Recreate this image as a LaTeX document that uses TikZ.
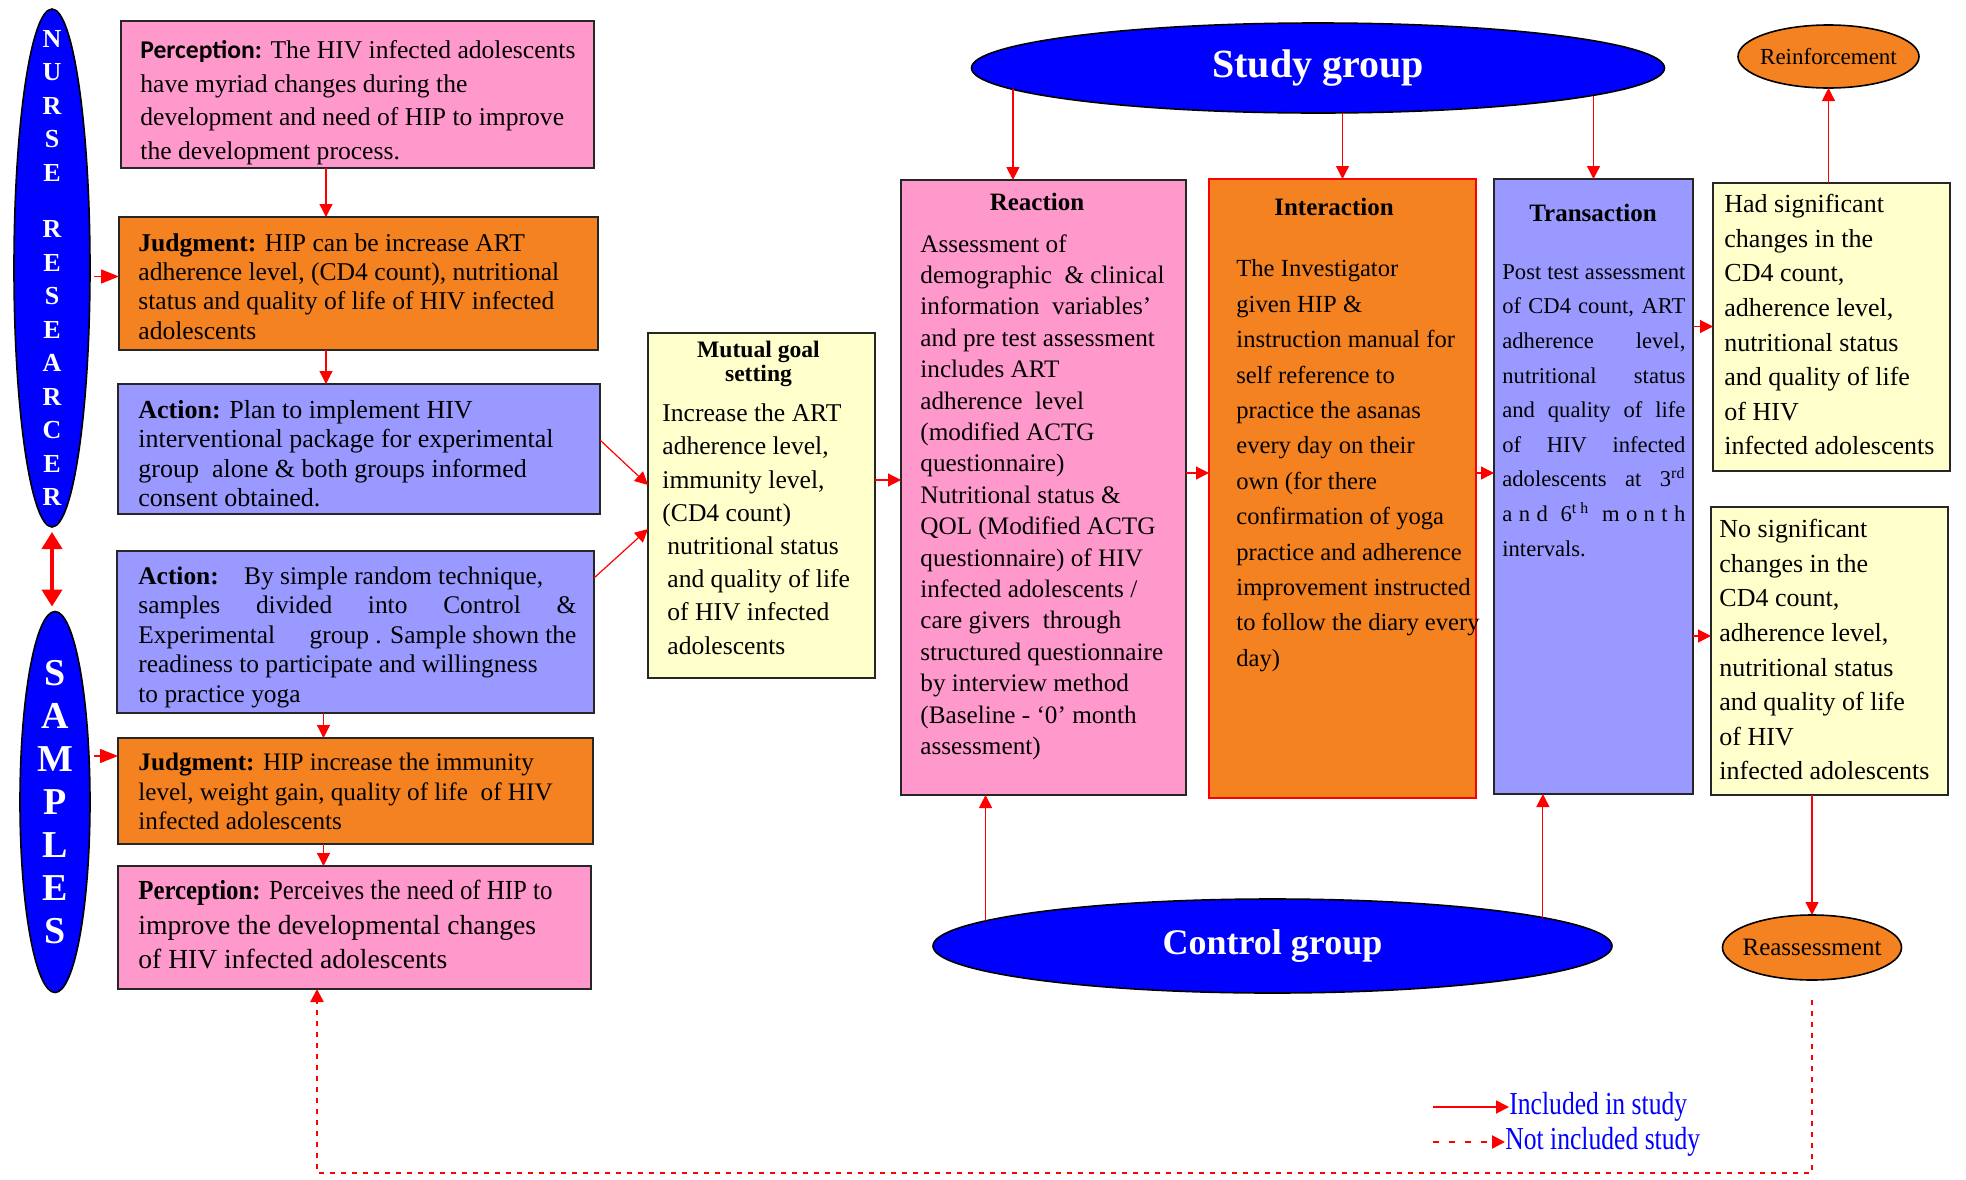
\documentclass[tikz,border=0pt]{standalone}
\usepackage{fontspec}
\setmainfont{Liberation Serif}
\newfontfamily\calibri{Carlito}
\newfontfamily\narrowserif[FakeStretch=0.8]{Liberation Serif}
\usepackage{graphicx}
\usepackage{tikz}
\usetikzlibrary{shapes,arrows.meta,positioning,fit}

\definecolor{boxpink}{RGB}{255,153,204}
\definecolor{boxorange}{RGB}{245,130,32}
\definecolor{boxlilac}{RGB}{153,153,255}
\definecolor{boxyellow}{RGB}{255,255,204}
\definecolor{ovalblue}{RGB}{0,0,255}

% a line spread out to a given width
\newcommand{\justline}[2]{\makebox[#1][s]{\spaceskip=0pt\xspaceskip=0pt #2}}

\tikzset{
  box/.style={draw=black!85, line width=1.1pt, inner sep=0pt, outer sep=0pt},
  pinkbox/.style={box, fill=boxpink},
  orangebox/.style={box, fill=boxorange},
  lilacbox/.style={box, fill=boxlilac},
  yellowbox/.style={box, fill=boxyellow},
  oval/.style={ellipse, draw=black, line width=0.8pt, inner sep=0pt, outer sep=0pt},
  vlet/.style={text=white, align=center, inner sep=0pt},
  txt/.style={anchor=north west, inner sep=0pt, align=flush left},
  head/.style={font=\fontsize{12.5}{14}\selectfont\bfseries, inner sep=0pt},
  inc/.style={red, line width=0.6pt, -{Triangle[length=6.5pt,width=6.5pt]}},
  stub/.style={red, line width=0.6pt, -{Triangle[length=9pt,width=7pt]}},
  notinc/.style={red, line width=1.2pt, dash pattern=on 2.5pt off 3pt, -{Triangle[length=6.5pt,width=6.5pt]}}
}

\begin{document}
\begin{tikzpicture}[x=0.5pt,y=-0.5pt]
\useasboundingbox (0,0) rectangle (1966,1179);

% Nurse researcher and samples
\node[oval, fill=ovalblue, minimum width=38pt, minimum height=259pt] (nurse) at (52,268) {};
\node[vlet, font=\fontsize{13}{16.75}\selectfont\bfseries] (nursetxt) at (nurse.center)
  {N\\U\\R\\S\\E\\[11.5pt]R\\E\\S\\E\\A\\R\\C\\E\\R};
\node[oval, fill=ovalblue, minimum width=35pt, minimum height=190.5pt] (samples) at (55,802) {};
\node[vlet, font=\fontsize{19}{21.45}\selectfont\bfseries] (samplestxt) at (samples.center)
  {S\\A\\M\\P\\L\\E\\S};

% Left column boxes
\node[pinkbox, fit={(121,21) (594,168)}] (perc1) {};
\node[txt, text width=232pt, font=\fontsize{12.8}{16.8}\selectfont] (perc1txt) at (140,40)
  {{\calibri\bfseries Perception:} The HIV infected adolescents\\
   have myriad changes during the\\
   development and need of HIP to improve\\
   the development process.};

\node[orangebox, fit={(119,217) (598,350)}] (judg1) {};
\node[txt, text width=232pt, font=\fontsize{12.8}{14.65}\selectfont] (judg1txt) at (138,233)
  {\textbf{Judgment:} HIP can be increase ART\\
   adherence level, (CD4 count), nutritional\\
   status and quality of life of HIV infected\\
   adolescents};

\node[lilacbox, fit={(118,384) (600,514)}] (act1) {};
\node[txt, text width=232pt, font=\fontsize{13}{14.65}\selectfont] (act1txt) at (138,400)
  {\textbf{Action:} Plan to implement HIV\\
   interventional package for experimental\\
   group\ \ alone \& both groups informed\\
   consent obtained.};

\node[lilacbox, fit={(117,551) (594,713)}] (act2) {};
\node[txt, text width=219pt, font=\fontsize{12.7}{14.7}\selectfont] (act2txt) at (138,566.5)
  {\textbf{Action:}\quad By simple random technique,\\
   \justline{219pt}{samples divided into Control \&}\\
   \justline{219pt}{Experimental\hfill group . Sample shown the}\\
   readiness to participate and willingness\\
   to practice yoga};

\node[orangebox, fit={(118,738) (593,844)}] (judg2) {};
\node[txt, text width=232pt, font=\fontsize{12.6}{14.75}\selectfont] (judg2txt) at (138,753)
  {\textbf{Judgment:} HIP increase the immunity\\
   level, weight gain, quality of life\ \ of HIV\\
   infected adolescents};

\node[pinkbox, fit={(118,866) (591,989)}] (perc2) {};
\node[txt, text width=232pt, font=\fontsize{13.8}{17.25}\selectfont] (perc2txt) at (138,880)
  {\scalebox{0.9}[1]{\textbf{Perception:} Perceives the need of HIP to}\\
   improve the developmental changes\\
   of HIV infected adolescents};

% Mutual goal setting
\node[yellowbox, fit={(648,333) (875,678)}] (mutual) {};
\node[align=flush center, inner sep=0pt, font=\fontsize{11.8}{12}\selectfont\bfseries] (mutualhead) at (758.5,364)
  {Mutual goal\\setting};
\node[txt, text width=105pt, font=\fontsize{12.8}{16.6}\selectfont] (mutualtxt) at (662,403.5)
  {Increase the ART\\
   adherence level,\\
   immunity level,\\
   (CD4 count)\\
   \hspace*{2.5pt}nutritional status\\
   \hspace*{2.5pt}and quality of life\\
   \hspace*{2.5pt}of HIV infected\\
   \hspace*{2.5pt}adolescents};

% Study phases
\node[pinkbox, fit={(901,180) (1186,795)}] (react) {};
\node[head] (reacthead) at (1037,202) {Reaction};
\node[txt, text width=135pt, font=\fontsize{12.6}{15.7}\selectfont] (reacttxt) at (920,234)
  {Assessment of\\
   demographic\ \ \& clinical\\
   information\ \ variables’\\
   and pre test assessment\\
   includes ART\\
   adherence\ \ level\\
   (modified ACTG\\
   questionnaire)\\
   Nutritional status \&\\
   QOL (Modified ACTG\\
   questionnaire) of HIV\\
   infected adolescents /\\
   care givers\ \ through\\
   structured questionnaire\\
   by interview method\\
   (Baseline - ‘0’ month\\
   assessment)};

\node[box, draw=red, fill=boxorange, fit={(1209,179) (1476,798)}] (inter) {};
\node[head] (interhead) at (1334,207) {Interaction};
\node[txt, text width=135pt, font=\fontsize{12.3}{17.7}\selectfont] (intertxt) at (1236,259.5)
  {The Investigator\\
   given HIP \&\\
   instruction manual for\\
   self reference to\\
   practice the asanas\\
   every day on their\\
   own (for there\\
   confirmation of yoga\\
   practice and adherence\\
   improvement instructed\\
   to follow the diary every\\
   day)};

\node[lilacbox, fit={(1494,179) (1693,794)}] (trans) {};
\node[head] (transhead) at (1593,213) {Transaction};
\node[txt, text width=92pt, font=\fontsize{11.3}{17.3}\selectfont] (transtxt) at (1502,264)
  {\justline{91.5pt}{Post test assessment}\\
   \justline{91.5pt}{of CD4 count, ART}\\
   \justline{91.5pt}{adherence level,}\\
   \justline{91.5pt}{nutritional status}\\
   \justline{91.5pt}{and quality of life}\\
   \justline{91.5pt}{of HIV infected}\\
   \justline{91.5pt}{adolescents at 3\textsuperscript{rd}}\\
   \justline{91.5pt}{a n d \ 6\textsuperscript{t h} \ m o n t h}\\
   intervals.};

% Outcomes
\node[yellowbox, fit={(1713,183) (1950,471)}] (had) {};
\node[txt, text width=115pt, font=\fontsize{13}{17.3}\selectfont] (hadtxt) at (1724,194)
  {Had significant\\
   changes in the\\
   CD4 count,\\
   adherence level,\\
   nutritional status\\
   and quality of life\\
   of HIV\\
   infected adolescents};

\node[yellowbox, fit={(1711,507) (1948,795)}] (nosig) {};
\node[txt, text width=115pt, font=\fontsize{13}{17.3}\selectfont] (nosigtxt) at (1719,519)
  {No significant\\
   changes in the\\
   CD4 count,\\
   adherence level,\\
   nutritional status\\
   and quality of life\\
   of HIV\\
   infected adolescents};

% Ellipses
\node[oval, fill=ovalblue, minimum width=346.5pt, minimum height=45pt, text=white,
  font=\fontsize{20}{24}\selectfont\bfseries] (study) at (1318,68) {Study group};
\node[oval, fill=ovalblue, minimum width=339.5pt, minimum height=47pt, text=white,
  font=\fontsize{18}{22}\selectfont\bfseries] (control) at (1272.5,946) {Control group};
\node[oval, fill=boxorange, minimum width=90.5pt, minimum height=31.5pt,
  font=\fontsize{11.5}{14}\selectfont] (reinf) at (1828.5,56.5) {\makebox[0pt]{Reinforcement}};
\node[oval, fill=boxorange, minimum width=89.5pt, minimum height=32.5pt,
  font=\fontsize{12.5}{14}\selectfont] (reass) at (1812,947.5) {\makebox[0pt]{Reassessment}};

% Helper coordinates
\coordinate (colA) at (326,0);
\coordinate (colB) at (323.5,0);
\coordinate (rowJ) at (0,276.5);
\coordinate (rowS) at (0,756);
\coordinate (rowM) at (0,480);
\coordinate (rowR) at (0,473);
\coordinate (rowH) at (0,326.5);
\coordinate (rowN) at (0,636);
\coordinate (back) at (317,1173);

% Connectors
\draw[inc] (perc1.south -| colA) -- (judg1.north -| colA);
\draw[inc] (judg1.south -| colA) -- (act1.north -| colA);
\draw[inc] (act2.south -| colB) -- (judg2.north -| colB);
\draw[inc] (judg2.south -| colB) -- (perc2.north -| colB);
\draw[stub] ([xshift=2pt]nurse.east |- rowJ) -- (judg1.west |- rowJ);
\draw[stub] ([xshift=2pt]samples.east |- rowS) -- (judg2.west |- rowS);
\draw[red, line width=2pt, {Triangle[length=8.5pt,width=10pt]}-{Triangle[length=8.5pt,width=10pt]},
  shorten <=2.5pt, shorten >=2.5pt] (nurse.south) -- (nurse.south |- samples.north);
\draw[inc] ([yshift=4.5pt]act1.east) -- ([yshift=10.25pt]mutual.west);
\draw[inc] ([yshift=27pt]act2.east) -- ([yshift=-11.75pt]mutual.west);
\draw[inc] (mutual.east |- rowM) -- (react.west |- rowM);
\draw[inc] (react.east |- rowR) -- (inter.west |- rowR);
\draw[inc] (inter.east |- rowR) -- (trans.west |- rowR);
\draw[inc] (trans.east |- rowH) -- (had.west |- rowH);
\draw[inc] (trans.east |- rowN) -- (nosig.west |- rowN);
\draw[inc] (study.184.7) -- (study.184.7 |- react.north);
\draw[inc] (study.south -| inter.north) -- (inter.north);
\draw[inc] (trans.north |- study.354.4) -- (trans.north);
\draw[inc] (control.175.1) -- (control.175.1 |- react.south);
\draw[inc] (control.6) -- (control.6 |- trans.south);
\draw[inc] (had.north -| reinf.south) -- (reinf.south);
\draw[inc] (nosig.south -| reass.north) -- (reass.north);
\draw[notinc] ([yshift=-10pt]reass.south) |- (back) -- (perc2.south -| back);

% Legend
\coordinate (legA) at (1433,1107);
\coordinate (legB) at (1433,1142);
\node[anchor=west, inner sep=0pt, text=ovalblue, font=\narrowserif\fontsize{16}{18}\selectfont] (leginc) at (1509,1107) {Included in study};
\node[anchor=west, inner sep=0pt, text=ovalblue, font=\narrowserif\fontsize{16}{18}\selectfont] (legnot) at (1505,1142) {Not included study};
\draw[inc, line width=0.9pt] (legA) -- (leginc.west);
\draw[red, line width=1.2pt, dash pattern=on 3pt off 5pt, -{Triangle[length=6.5pt,width=6.5pt]}] (legB) -- (legnot.west);
\end{tikzpicture}
\end{document}
